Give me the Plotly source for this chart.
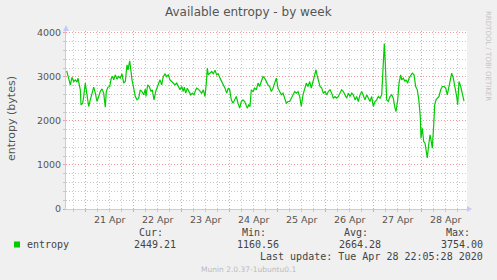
import plotly.graph_objects as go
from datetime import datetime, timedelta

# ---- data (hours offset from 2020-04-21 00:00, available entropy in bytes) ----
base_time = "2020-04-21 00:00"
hours = [
    -9.5, -8.5, -7.7, -6.85, -6, -5.2, -4.35, -3.85, -3.2, -2.7, -2.35, -1.5, -1, -0.2,
    0.65, 1.5, 2.3, 3.15, 4, 4.8, 5.65, 6.5, 7.3, 8.15, 9, 9.8, 10.3, 11.15, 12, 12.8,
    13.5, 14, 14.8, 15.65, 16.5, 17.3, 18.15, 19, 19.8, 20.65, 21.15, 22, 22.65, 23.15,
    24, 24.8, 25.65, 26.5, 27.3, 28.15, 29, 29.8, 30.15, 31, 31.8, 32.65, 33.3, 34.15,
    35, 35.8, 36.65, 37.15, 38, 38.8, 39.65, 40.5, 41.3, 42.15, 43, 43.8, 44.65, 45.5,
    46.3, 47.15, 48, 48.8, 49.3, 50, 50.8, 51.65, 52.5, 53.3, 54.15, 55, 55.5, 56.3,
    57.15, 58, 58.8, 59.65, 60.3, 60.8, 61.3, 62.15, 63, 63.8, 64.65, 65.5, 66.3, 67.15,
    68, 68.8, 69.65, 70.5, 71.3, 72, 72.8, 73.65, 74.5, 75.3, 76.15, 77, 77.8, 78.65,
    79.5, 80.3, 80.8, 81.5, 82.15, 82.8, 83.65, 84.5, 85.3, 86.15, 87, 87.8, 88.65, 89.5,
    90.3, 91.15, 92, 92.8, 93.65, 94.5, 95.3, 96.15, 97, 97.8, 98.65, 99.5, 100.3, 101.15,
    102, 102.8, 103.65, 104.5, 105.3, 106.15, 107, 107.8, 108.65, 109.5, 110.3, 111.15,
    112, 112.8, 113.5, 114.3, 115.15, 115.65, 116.3, 117.15, 118, 118.8, 119.65, 120.5,
    121.3, 122.15, 123, 123.8, 124.65, 125.5, 126.3, 127.15, 128, 128.8, 129.65, 130.5,
    131.3, 132.15, 133, 133.8, 134.65, 135.5, 136.3, 137.15, 138, 138.8, 139.65, 140.5,
    141.3, 142.15, 143, 143.8, 144.65, 145.5, 146.3, 147.15, 148, 148.5, 149, 149.3,
    149.8, 150.5, 151.3, 152.15, 153, 153.8, 154.65, 155.15, 156, 156.65, 157.5, 158,
    158.8, 159.65, 160.15, 161, 161.65, 162.5, 163.3, 164.15, 165, 165.8, 166.5, 167.3,
    167.65, 168.3, 169, 169.65, 170.3, 170.8, 171.5, 172.15, 172.65, 173.3, 174, 174.5,
    175.15, 175.8, 176.65, 177.5, 178.3, 179.15, 180, 180.8, 181.3, 182.15, 183, 183.8,
    184.65, 185.5, 186, 186.65, 187.5, 188.3, 189.15,
]
entropy = [
    3135, 2970, 2818, 2990, 2893, 2932, 2880, 2970, 2857, 2705, 2364, 2402, 2553, 2857,
    2591, 2326, 2477, 2630, 2766, 2630, 2440, 2553, 2667, 2727, 2630, 2310, 2667, 2766, 2780, 2970,
    3007, 2932, 3045, 2948, 3007, 2970, 3068, 2857, 2893, 3273, 3160, 3364, 3045, 2932,
    2743, 2553, 2477, 2516, 2705, 2667, 2591, 2720, 2553, 2818, 2780, 2667, 2705, 2477,
    2667, 2780, 2857, 2932, 2818, 3007, 3068, 3007, 3045, 2932, 2893, 2857, 2818, 2857,
    2780, 2705, 2780, 2667, 2766, 2630, 2743, 2667, 2591, 2630, 2591, 2705, 2743, 2720,
    2667, 2630, 2705, 2553, 2857, 3198, 3045, 3084, 3120, 3068, 3148, 3045, 3068, 2970,
    2893, 2857, 2743, 2630, 2743, 2705, 2477, 2402, 2477, 2553, 2402, 2289, 2440, 2477,
    2440, 2364, 2289, 2364, 2326, 2705, 2667, 2743, 2705, 2857, 2780, 2893, 3007, 2970,
    2893, 2818, 2780, 2667, 2743, 2857, 2970, 2743, 2667, 2591, 2630, 2516, 2402, 2440,
    2440, 2516, 2591, 2667, 2630, 2667, 2553, 2326, 2591, 2705, 2857, 2780,
    2893, 2743, 2857, 3007, 3160, 3045, 2893, 2780, 2743, 2630, 2667, 2591,
    2667, 2705, 2630, 2516, 2553, 2516, 2553, 2630, 2705, 2667, 2591, 2516,
    2630, 2553, 2630, 2591, 2477, 2553, 2440, 2591, 2667, 2553, 2477, 2591,
    2516, 2440, 2553, 2326, 2440, 2477, 2553, 2516, 2591, 3007, 3462, 3754,
    3311, 2477, 2440, 2553, 2591, 2516, 2289, 2212, 2477, 2857, 3045, 2932,
    2970, 2893, 2932, 2857, 2970, 3045, 3084, 3045, 2780, 2705, 2500, 2100,
    1607, 1834, 1530, 1493, 1341, 1160.56, 1455, 1682, 1568, 1379, 1909, 2364,
    2477, 2516, 2553, 2705, 2780, 2780, 2743, 2591, 2705, 2857, 3084, 2970,
    2780, 2553, 2364, 2893, 2780, 2630, 2449.21,
]
range_hours = [-9.85, 190.65]
y_ticks = [0, 1000, 2000, 3000, 4000]
series_name = "entropy"
stat_labels = ["Cur:", "Min:", "Avg:", "Max:"]
stat_values = ["2449.21", "1160.56", "2664.28", "3754.00"]
title_text = "Available entropy - by week"
y_title = "entropy (bytes)"
last_update = "Last update: Tue Apr 28 22:05:28 2020"
footer = "Munin 2.0.37-1ubuntu0.1"
side_text = "RRDTOOL / TOBI OETIKER"

# ---- build ----
t0 = datetime.strptime(base_time, "%Y-%m-%d %H:%M")
times = [t0 + timedelta(hours=h) for h in hours]
xr = [t0 + timedelta(hours=h) for h in range_hours]

W, H = 497, 280
L, R, T, B = 66, 30, 31, 71
PW, PH = W - L - R, H - T - B

def px(x):
    return (x - L) / PW

def py(y):
    return (H - B - y) / PH

GREEN = "#00CC00"
MAJOR = "#EE9C9C"
MINOR = "#C8C8C8"
AXIS = "#C8C8F8"
TXT = "#555555"
LEG = "#444444"
DOT = "1px,2px"

fig = go.Figure()
fig.add_trace(go.Scatter(x=times, y=entropy, mode="lines",
                         line=dict(color=GREEN, width=1.2), name=series_name,
                         hoverinfo="skip"))

fig.update_layout(
    width=W, height=H, margin=dict(l=L, r=R, t=T, b=B, pad=0),
    paper_bgcolor="#F0F0F0", plot_bgcolor="#FFFFFF", showlegend=False,
    font=dict(family="DejaVu Sans", color=TXT, size=9.5),
)
fig.update_xaxes(
    range=xr, type="date", dtick=86400000, tick0="2020-04-21 00:00",
    tickformat="%d %b", ticklabelmode="period",
    showgrid=True, gridcolor=MAJOR, griddash=DOT, gridwidth=1,
    ticks="outside", ticklen=2, tickcolor=MAJOR,
    showline=True, linecolor=AXIS, linewidth=1,
    tickfont=dict(size=9.5, color=TXT),
    minor=dict(dtick=6 * 3600000, tick0="2020-04-21 00:00", showgrid=True,
               gridcolor=MINOR, griddash=DOT, gridwidth=1,
               ticks="outside", ticklen=2, tickcolor=MINOR),
    zeroline=False, fixedrange=True,
)
fig.update_yaxes(
    range=[0, 4040], tickvals=y_ticks, ticktext=[str(v) for v in y_ticks],
    showgrid=True, gridcolor=MAJOR, griddash=DOT, gridwidth=1,
    ticks="outside", ticklen=2, tickcolor=MAJOR,
    showline=True, linecolor=AXIS, linewidth=1,
    tickfont=dict(size=9.5, color=TXT),
    minor=dict(dtick=200, showgrid=True, gridcolor=MINOR, griddash=DOT,
               gridwidth=1, ticks="outside", ticklen=2, tickcolor=MINOR),
    zeroline=False, fixedrange=True,
)

# axis arrows
fig.add_shape(type="path", xref="paper", yref="paper", xsizemode="pixel",
              ysizemode="pixel", xanchor=0, yanchor=1,
              path="M -3 0 L 3 0 L 0 6 Z", fillcolor=AXIS, line=dict(width=0))
fig.add_shape(type="path", xref="paper", yref="paper", xsizemode="pixel",
              ysizemode="pixel", xanchor=1, yanchor=0,
              path="M 0 -3 L 0 3 L 5 0 Z", fillcolor=AXIS, line=dict(width=0))

ann = []
def add(text, x, y, size, color, xanchor="center", family="DejaVu Sans", angle=0):
    ann.append(dict(text=text, x=px(x), y=py(y), xref="paper", yref="paper",
                    showarrow=False, xanchor=xanchor, yanchor="middle",
                    textangle=angle, borderpad=0,
                    font=dict(size=size, color=color, family=family)))

add(title_text, 248, 12, 12, TXT)
add(y_title, 11, 119, 11, TXT, angle=-90)
add(side_text, 488, 56, 7, "#C4C4C4", angle=90)

MONO = "DejaVu Sans Mono"
label_right = [164, 267, 369, 471]
value_right = [177, 280, 382, 484]
for lab, xr_ in zip(stat_labels, label_right):
    add(lab, xr_, 233, 10, LEG, xanchor="right", family=MONO)
for val, xr_ in zip(stat_values, value_right):
    add(val, xr_, 244.5, 10, LEG, xanchor="right", family=MONO)
add(series_name, 26, 244.5, 10, LEG, xanchor="left", family=MONO)
add(last_update, 484, 256.5, 10, LEG, xanchor="right", family=MONO)
add(footer, 248, 269.5, 7.5, "#BBBBBB")
fig.update_layout(annotations=ann)

fig.add_shape(type="rect", xref="paper", yref="paper",
              x0=px(14), x1=px(20), y0=py(247.5), y1=py(241.5),
              fillcolor=GREEN, line=dict(width=0))

fig.write_html("out.html")
